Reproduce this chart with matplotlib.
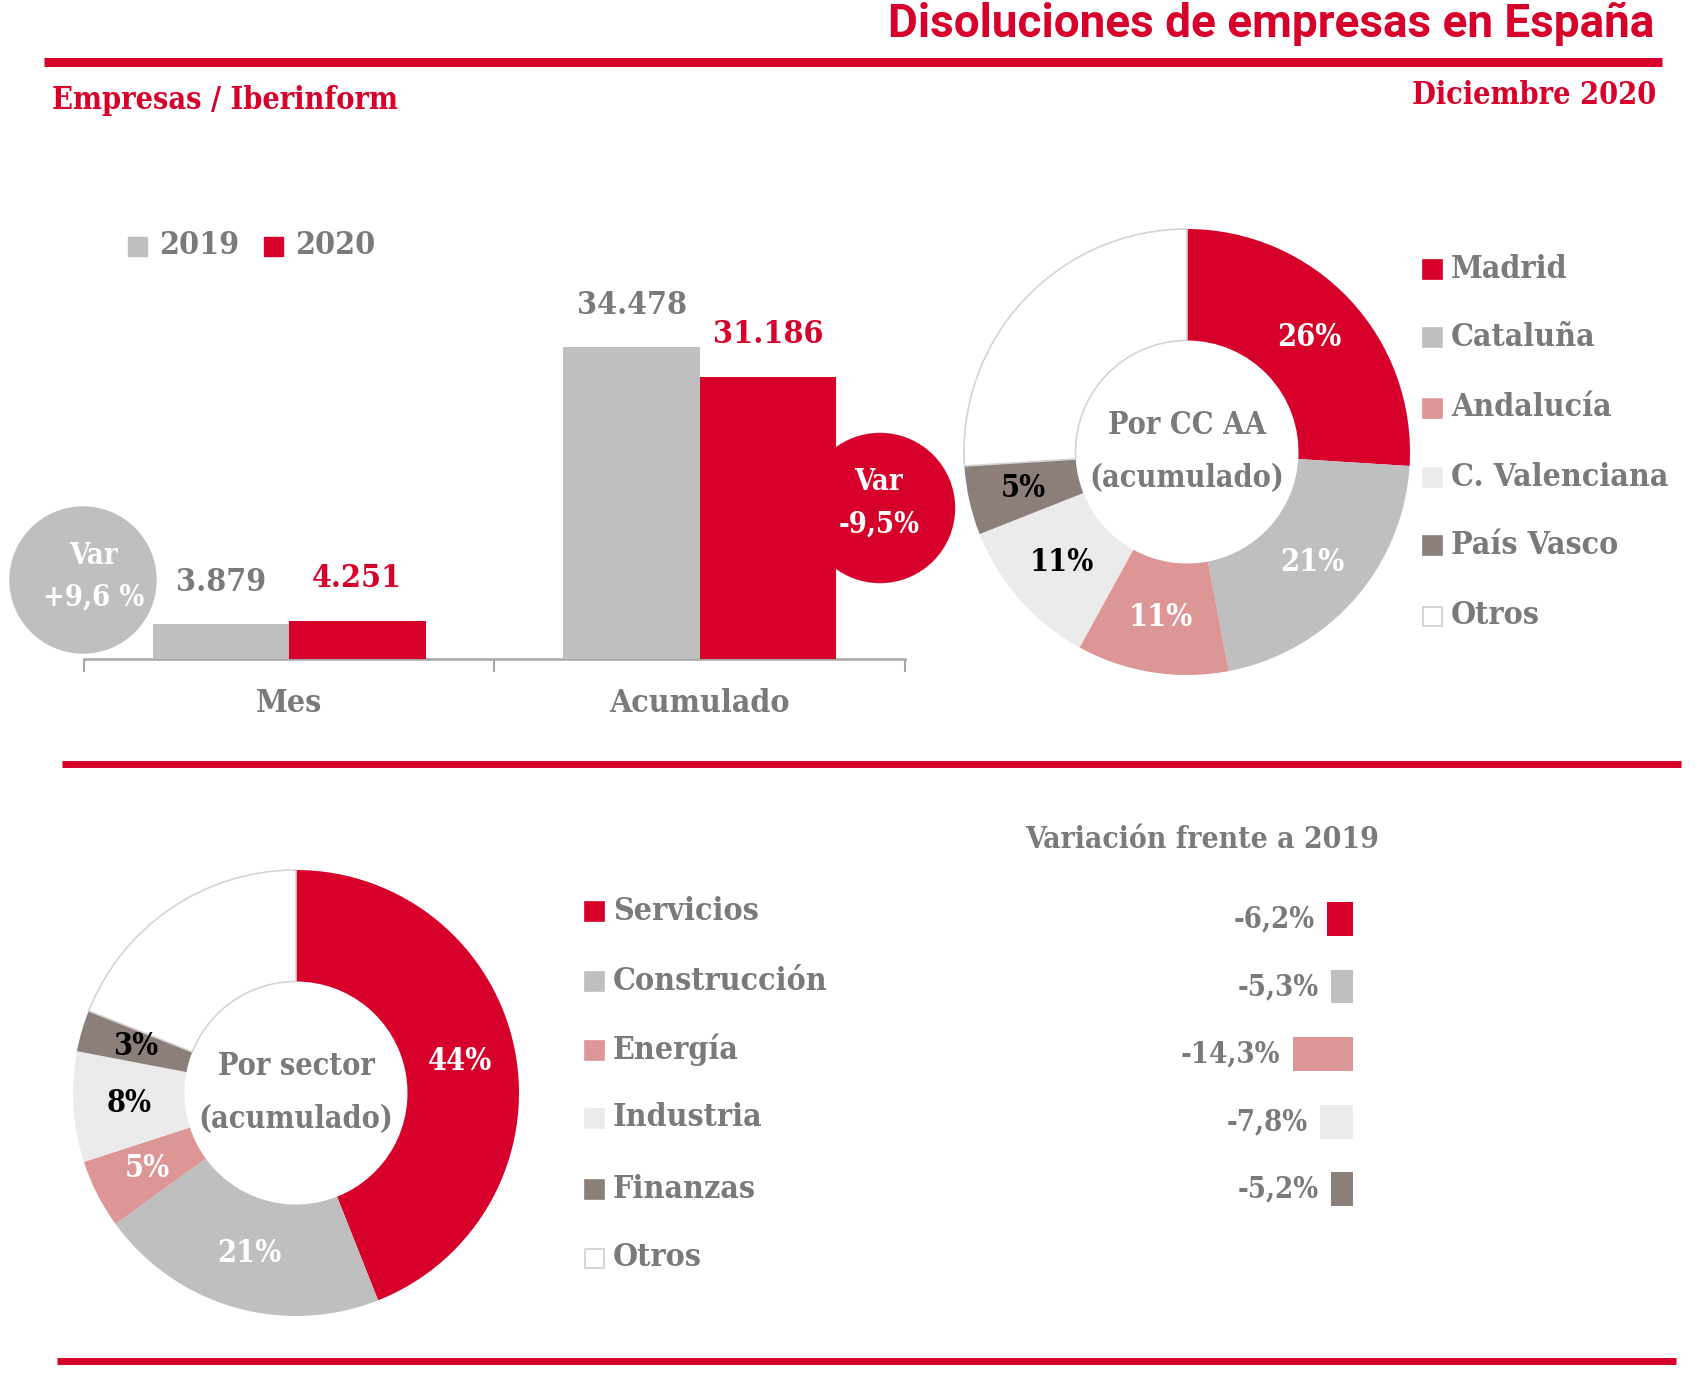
import matplotlib
matplotlib.use("Agg")
import matplotlib.pyplot as plt
import numpy as np
from matplotlib.patches import Circle, Rectangle

# --- data ---
bar_cats = ['Mes', 'Acumulado']
val_2019 = [3879, 34478]
val_2020 = [4251, 31186]

ccaa = ['Madrid', 'Cataluña', 'Andalucía', 'C. Valenciana', 'País Vasco', 'Otros']
ccaa_pct = [26, 21, 11, 11, 5, 26]

sectores = ['Servicios', 'Construcción', 'Energía', 'Industria', 'Finanzas', 'Otros']
sector_pct = [44, 21, 5, 8, 3, 19]
sector_var = [-6.2, -5.3, -14.3, -7.8, -5.2]

RED = '#d6002a'
GRAY = '#bfbfbf'
TXT = '#7a7a7a'
seg_colors = [RED, GRAY, '#dc9696', '#ebebeb', '#8c7f79', '#ffffff']
pct_colors = ['white', 'white', 'white', 'black', 'black', 'white']

W, H = 1706, 1380
SERIF = dict(family=['DejaVu Serif Condensed', 'DejaVu Serif'], fontstretch='condensed', fontweight='bold')
SANS = dict(family=['Liberation Sans Narrow', 'Roboto', 'DejaVu Sans'], fontstretch='condensed', fontweight='bold')


def es_num(v):
    return '{:,}'.format(v).replace(',', '.')


def es_pct(v, dec=1):
    return ('{:.%df}%%' % dec).format(v).replace('.', ',')


def px_axes(l, t, r, b):
    # axes from pixel box (top-left origin)
    return fig.add_axes([l / W, 1 - b / H, (r - l) / W, (b - t) / H])


fig = plt.figure(figsize=(W / 100, H / 100), dpi=100)

# background overlay in pixel coordinates
bg = fig.add_axes([0, 0, 1, 1])
bg.set_xlim(0, W)
bg.set_ylim(H, 0)
bg.axis('off')

# header
bg.text(1654, 24, 'Disoluciones de empresas en España', color=RED, fontsize=33,
        ha='right', va='center', **SANS)
bg.plot([44, 1662], [62, 62], color=RED, lw=6.5, solid_capstyle='butt')
bg.text(52, 101, 'Empresas / Iberinform', color=RED, fontsize=22, ha='left', va='center', **SERIF)
bg.text(1656, 96, 'Diciembre 2020', color=RED, fontsize=22, ha='right', va='center', **SERIF)
bg.plot([62, 1681], [764, 764], color=RED, lw=5, solid_capstyle='butt')
bg.plot([57, 1676], [1361, 1361], color=RED, lw=5, solid_capstyle='butt')

# ---- bar chart ----
ax = px_axes(84, 200, 905, 659)
ax.patch.set_alpha(0)
x = np.arange(len(bar_cats))
bw = 0.332
b1 = ax.bar(x - bw / 2, val_2019, bw, color=GRAY, zorder=3)
b2 = ax.bar(x + bw / 2, val_2020, bw, color=RED, zorder=3)
ax.set_xlim(-0.5, 1.5)
ax.set_ylim(0, 50700)
for rect, v in zip(b1, val_2019):
    ax.annotate(es_num(v), (rect.get_x() + rect.get_width() / 2, v), xytext=(0, 30),
                textcoords='offset points', ha='center', va='center', color=TXT, fontsize=23, **SERIF)
for rect, v in zip(b2, val_2020):
    ax.annotate(es_num(v), (rect.get_x() + rect.get_width() / 2, v), xytext=(0, 30),
                textcoords='offset points', ha='center', va='center', color=RED, fontsize=23, **SERIF)
for s in ['top', 'left', 'right']:
    ax.spines[s].set_visible(False)
ax.spines['bottom'].set_color('#a6a6a6')
ax.spines['bottom'].set_linewidth(1.8)
ax.set_yticks([])
ax.set_xticks(x)
ax.set_xticklabels(bar_cats, color=TXT, fontsize=23, **SERIF)
ax.set_xticks([-0.5, 0.5, 1.5], minor=True)
ax.tick_params(axis='x', which='major', length=0, pad=21)
ax.tick_params(axis='x', which='minor', length=9, width=1.5, color='#a6a6a6')

# bar legend
for i, (lab, col) in enumerate(zip(['2019', '2020'], [GRAY, RED])):
    x0 = 128 + i * 136
    bg.add_patch(Rectangle((x0, 237), 19, 19, color=col))
    bg.text(x0 + 31, 246, lab, color=TXT, fontsize=23, ha='left', va='center', **SERIF)

# variation bubbles
var_mes = (val_2020[0] / val_2019[0] - 1) * 100
var_acu = (val_2020[1] / val_2019[1] - 1) * 100
bg.add_patch(Circle((83, 580), 73, color=GRAY, zorder=1))
bg.text(94, 555, 'Var', color='white', fontsize=21, ha='center', va='center', **SERIF)
bg.text(94, 597, '+' + es_pct(var_mes).replace('%', ' %'), color='white', fontsize=21,
        ha='center', va='center', **SERIF)
bg.add_patch(Circle((880, 508), 74.5, color=RED, zorder=1))
bg.text(879, 481, 'Var', color='white', fontsize=21, ha='center', va='center', **SERIF)
bg.text(879, 524, es_pct(var_acu), color='white', fontsize=21, ha='center', va='center', **SERIF)


def donut(cx, cy, vals, center_txt):
    R = 223
    a = px_axes(cx - R, cy - R, cx + R, cy + R)
    labs = ['%d%%' % v for v in vals[:-1]] + ['']
    wedges, texts = a.pie(vals, colors=seg_colors, startangle=90, counterclock=False, radius=1,
                          labels=labs, labeldistance=0.75,
                          wedgeprops=dict(width=0.5, linewidth=0))
    wedges[-1].set_edgecolor('#d4d4d4')
    wedges[-1].set_linewidth(1.2)
    for t, c in zip(texts, pct_colors):
        t.set_color(c)
        t.set_fontsize(22)
        t.set_ha('center')
        t.set_va('center')
        t.set_family(SERIF['family'])
        t.set_fontstretch('condensed')
        t.set_fontweight('bold')
    a.text(0, 0.12, center_txt[0], color=TXT, fontsize=22, ha='center', va='center', **SERIF)
    a.text(0, -0.12, center_txt[1], color=TXT, fontsize=22, ha='center', va='center', **SERIF)
    a.set_xlim(-1, 1)
    a.set_ylim(-1, 1)
    a.set_aspect('equal')
    a.axis('off')


def legend(x0, y_rows, names):
    for y, name, col in zip(y_rows, names, seg_colors):
        ec = '#d0d0d0' if col == '#ffffff' else col
        bg.add_patch(Rectangle((x0, y - 9), 19, 19, facecolor=col, edgecolor=ec, lw=1.2))
        bg.text(x0 + 28, y, name, color=TXT, fontsize=23, ha='left', va='center', **SERIF)


# ---- donut CC AA ----
donut(1187, 452, ccaa_pct, ['Por CC AA', '(acumulado)'])
legend(1423, [269, 337, 408, 477, 545, 616], ccaa)

# ---- donut sectores ----
donut(296, 1093, sector_pct, ['Por sector', '(acumulado)'])
legend(585, [911, 981, 1050, 1118, 1189, 1258], sectores)

# ---- variation bars ----
bg.text(1202, 839, 'Variación frente a 2019', color=TXT, fontsize=21.5, ha='center', va='center', **SERIF)
av = px_axes(1353 - 4.19 * 20, 885, 1353, 1223)
av.patch.set_alpha(0)
yy = np.arange(len(sector_var))
av.barh(yy, sector_var, height=0.5, color=seg_colors[:len(sector_var)])
for yi, v in zip(yy, sector_var):
    av.annotate(es_pct(v), (v, yi), xytext=(-9, 0), textcoords='offset points', ha='right', va='center',
                color=TXT, fontsize=21, annotation_clip=False, **SERIF)
av.set_xlim(-20, 0)
av.set_ylim(4.5, -0.5)
av.axis('off')

fig.savefig('out.png', dpi=100)
